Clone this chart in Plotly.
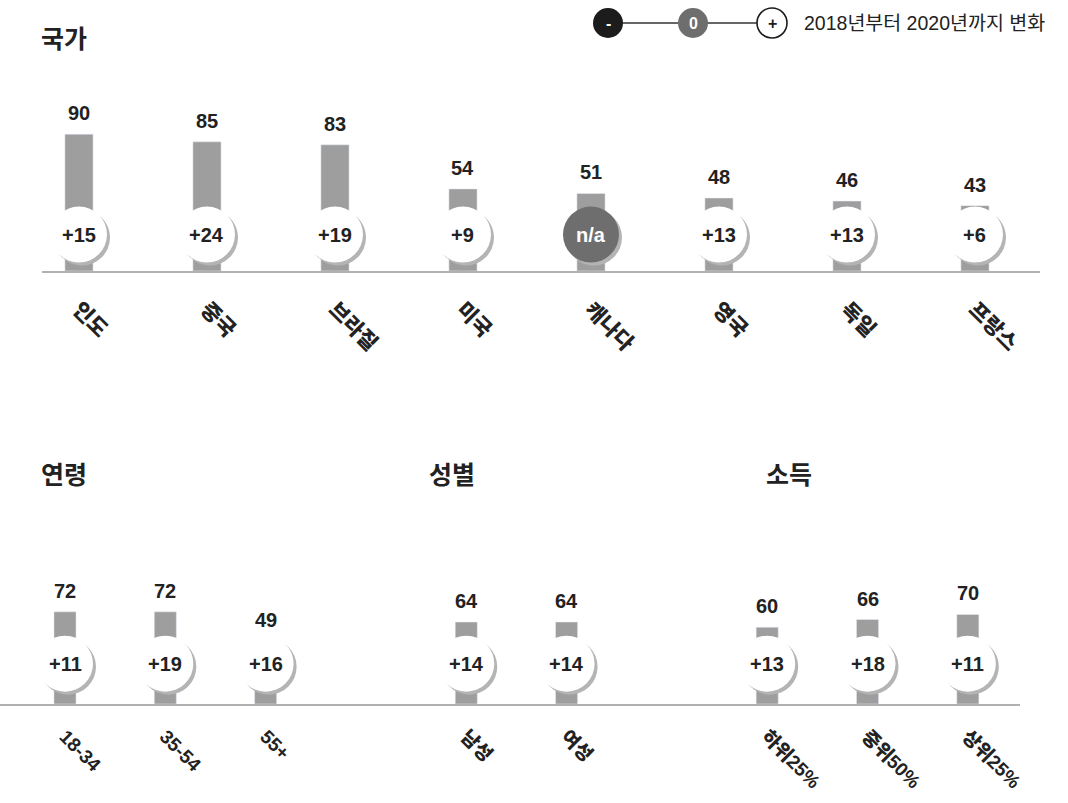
import plotly.graph_objects as go

W, H = 1068, 803
FONT = "Liberation Sans, Noto Sans CJK KR, sans-serif"
BAR = "#9e9e9e"
AXIS = "#b0b0b0"
SHADOW = "#b4b4b4"
TXT = "#222222"

# ---- country panel ----
countries = ["인도", "중국", "브라질", "미국", "캐나다", "영국", "독일", "프랑스"]
country_vals = [90, 85, 83, 54, 51, 48, 46, 43]
country_chg = [15, 24, 19, 9, None, 13, 13, 6]

# ---- demographic panels ----
age_labels = ["18-34", "35-54", "55+"]
age_vals = [72, 72, 49]
age_chg = [11, 19, 16]

gender_labels = ["남성", "여성"]
gender_vals = [64, 64]
gender_chg = [14, 14]

income_labels = ["하위25%", "중위50%", "상위25%"]
income_vals = [60, 66, 70]
income_chg = [13, 18, 11]

panel_titles = ["국가", "연령", "성별", "소득"]
legend_text = "2018년부터 2020년까지 변화"


def px_x(p):
    return p / W


def px_y(p):
    return 1 - p / H


# lay the three demographic groups on one shared axis, one empty slot between groups
demo_groups = [
    (age_labels, age_vals, age_chg),
    (gender_labels, gender_vals, gender_chg),
    (income_labels, income_vals, income_chg),
]
demo_pos, demo_lab, demo_val, demo_chg = [], [], [], []
slot = 0
for labs, vals, chgs in demo_groups:
    for l, v, c in zip(labs, vals, chgs):
        demo_pos.append(slot)
        demo_lab.append(l)
        demo_val.append(v)
        demo_chg.append(c)
        slot += 1
    slot += 1

country_pos = list(range(len(countries)))

fig = go.Figure()
fig.add_trace(go.Bar(x=country_pos, y=country_vals, width=0.22, marker_color=BAR,
                     xaxis="x", yaxis="y", hoverinfo="skip"))
fig.add_trace(go.Bar(x=demo_pos, y=demo_val, width=0.22, marker_color=BAR,
                     xaxis="x2", yaxis="y2", hoverinfo="skip"))

shapes = []
annotations = []


def add_change_circles(xs, chgs, xref, yref, ycenter, r=28):
    for x, c in zip(xs, chgs):
        na = c is None
        # soft drop shadow, offset down-right
        shapes.append(dict(type="circle", xref=xref, yref=yref, layer="above",
                           xsizemode="pixel", ysizemode="pixel",
                           xanchor=x, yanchor=ycenter,
                           x0=-r + 3, x1=r + 3, y0=-r - 3, y1=r - 3,
                           fillcolor=SHADOW, line_width=0))
        shapes.append(dict(type="circle", xref=xref, yref=yref, layer="above",
                           xsizemode="pixel", ysizemode="pixel",
                           xanchor=x, yanchor=ycenter,
                           x0=-r, x1=r, y0=-r, y1=r,
                           fillcolor="#6e6e6e" if na else "white", line_width=0))
        annotations.append(dict(x=x, y=ycenter, xref=xref, yref=yref, showarrow=False,
                                xanchor="center", yanchor="middle",
                                text="n/a" if na else f"+{c}",
                                font=dict(family=FONT, size=20, weight="bold",
                                          color="white" if na else TXT)))


def add_value_labels(xs, vals, xref, yref):
    for x, v in zip(xs, vals):
        annotations.append(dict(x=x, y=v, xref=xref, yref=yref, showarrow=False,
                                xanchor="center", yanchor="bottom", yshift=8, text=str(v),
                                font=dict(family=FONT, size=20, weight="bold", color=TXT)))


add_value_labels(country_pos, country_vals, "x", "y")
add_value_labels(demo_pos, demo_val, "x2", "y2")
add_change_circles(country_pos, country_chg, "x", "y", 24)
add_change_circles(demo_pos, demo_chg, "x2", "y2", 31.5)

# panel titles
for t, (tx, ty) in zip(panel_titles, [(39, 39), (39, 475), (427, 475), (764, 475)]):
    annotations.append(dict(x=px_x(tx), y=px_y(ty), xref="paper", yref="paper",
                            xanchor="left", yanchor="middle", showarrow=False, text=t,
                            font=dict(family=FONT, size=25, weight="bold", color=TXT)))

# change legend: minus / zero / plus markers joined by a line
ly = px_y(23)
shapes.append(dict(type="line", xref="paper", yref="paper",
                   x0=px_x(608), x1=px_x(772), y0=ly, y1=ly,
                   line=dict(color="#333333", width=1.6), layer="above"))
legend_marks = [(608, "#1c1c1c", None, "-", "white"),
                (693, "#6e6e6e", None, "0", "white"),
                (772, "white", "#1c1c1c", "+", "#1c1c1c")]
for cx, fill, edge, sym, tc in legend_marks:
    r = 15
    shapes.append(dict(type="circle", xref="paper", yref="paper", layer="above",
                       xsizemode="pixel", ysizemode="pixel",
                       xanchor=px_x(cx), yanchor=ly, x0=-r, x1=r, y0=-r, y1=r,
                       fillcolor=fill,
                       line=dict(color=edge, width=1.6) if edge else dict(width=0)))
    annotations.append(dict(x=px_x(cx), y=ly, xref="paper", yref="paper", showarrow=False,
                            xanchor="center", yanchor="middle",
                            text=sym, font=dict(family=FONT, size=16, weight="bold", color=tc)))
annotations.append(dict(x=px_x(802), y=ly, xref="paper", yref="paper", showarrow=False,
                        xanchor="left", yanchor="middle", text=legend_text,
                        font=dict(family=FONT, size=19.5, color=TXT)))

common_x = dict(tickmode="array", tickangle=45, ticks="",
                showline=True, linecolor=AXIS, linewidth=2, automargin=False,
                showgrid=False, zeroline=False, fixedrange=True)
fig.update_layout(
    width=W, height=H,
    margin=dict(l=0, r=0, t=0, b=0, autoexpand=False),
    paper_bgcolor="white", plot_bgcolor="white",
    showlegend=False, barmode="overlay",
    xaxis=dict(domain=[px_x(42), px_x(1040)], range=[-0.289, 7.508], anchor="y",
               tickvals=country_pos, ticktext=countries, ticklabelstandoff=16,
               tickfont=dict(family=FONT, size=21, weight=900, color=TXT), **common_x),
    yaxis=dict(domain=[px_y(271), px_y(100)], range=[0, 112.5], visible=False),
    xaxis2=dict(domain=[0, px_x(1020)], range=[-0.648, 9.52], anchor="y2",
                tickvals=demo_pos, ticktext=demo_lab, ticklabelstandoff=12,
                tickfont=dict(family=FONT, size=19, weight=900, color=TXT), **common_x),
    yaxis2=dict(domain=[px_y(704), px_y(560)], range=[0, 112.5], visible=False),
    shapes=shapes,
    annotations=annotations,
)

fig.write_html("out.html", config={"displayModeBar": False})
